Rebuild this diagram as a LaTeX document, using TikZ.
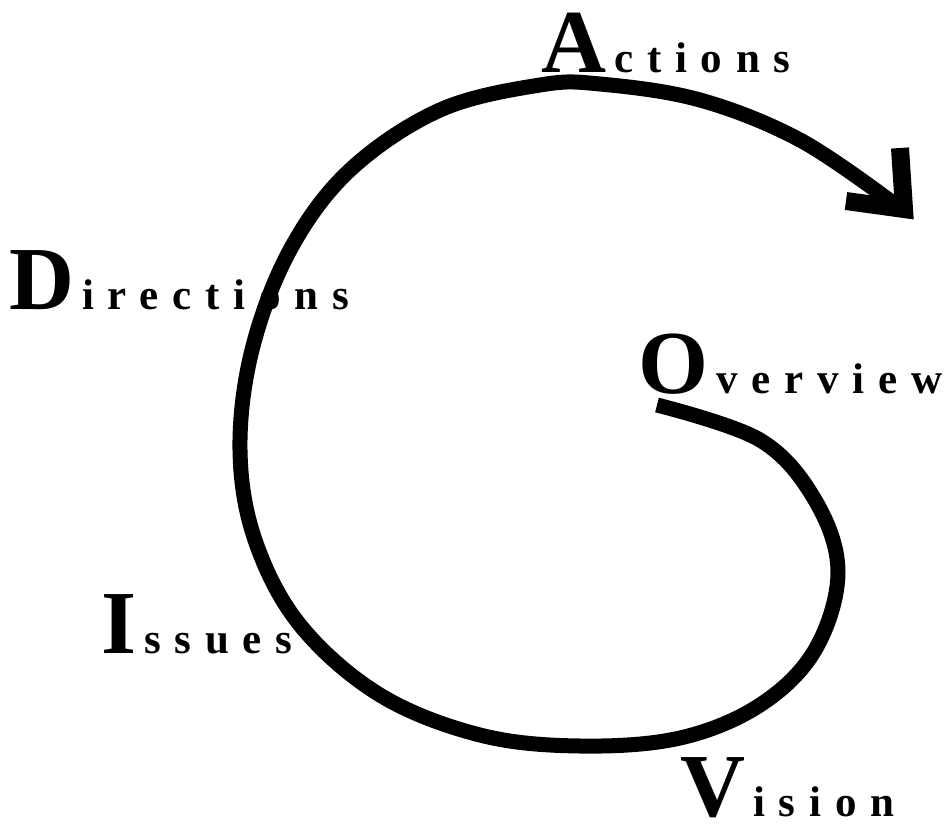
\documentclass[tikz,border=0pt]{standalone}
\usepackage{fontspec}
\setmainfont{Liberation Serif}
\newfontfamily\DAVspaced[LetterSpace=32]{Liberation Serif}
\newcommand{\DAVword}[2]{{\fontsize{90}{90}\selectfont\bfseries #1}\hspace{8pt}{\fontsize{43}{43}\selectfont\DAVspaced\bfseries #2}}
\tikzset{DAVlab/.style={anchor=base west,inner sep=0pt},
         DAVspiral/.style={line width=15pt,line cap=butt},
         DAVhead/.style={line width=18pt,line cap=butt,miter limit=4}}

\begin{document}
\begin{tikzpicture}[x=1pt,y=-1pt]
  \useasboundingbox (0,0) rectangle (951,825);
  % labels
  \foreach \n/\c/\r/\x/\y in {actions/A/ctions/541/72, directions/D/irections/9/309,
      overview/O/verview/638/393, issues/I/ssues/101/653, vision/V/ision/680/816}
    \node[DAVlab] (\n) at (\x,\y) {\DAVword{\c}{\r}};
  % spiral
  \coordinate (in) at (657,405);
  \coordinate (end) at (893,203);
  \coordinate (tip) at (904,209);
  \draw[DAVspiral] plot[smooth,tension=0.6] coordinates {(in) (760,440) (815,500) (838,572)
      (815,650) (760,705) (680,738) (580,746) (480,735) (380,695) (300,625) (255,540)
      (240,450) (252,350) (290,250) (350,170) (440,110) (540,85) (600,84) (700,100)
      (800,140) (end)};
  \draw[DAVhead] (900,148) -- (tip) -- (846,201);
\end{tikzpicture}
\end{document}
